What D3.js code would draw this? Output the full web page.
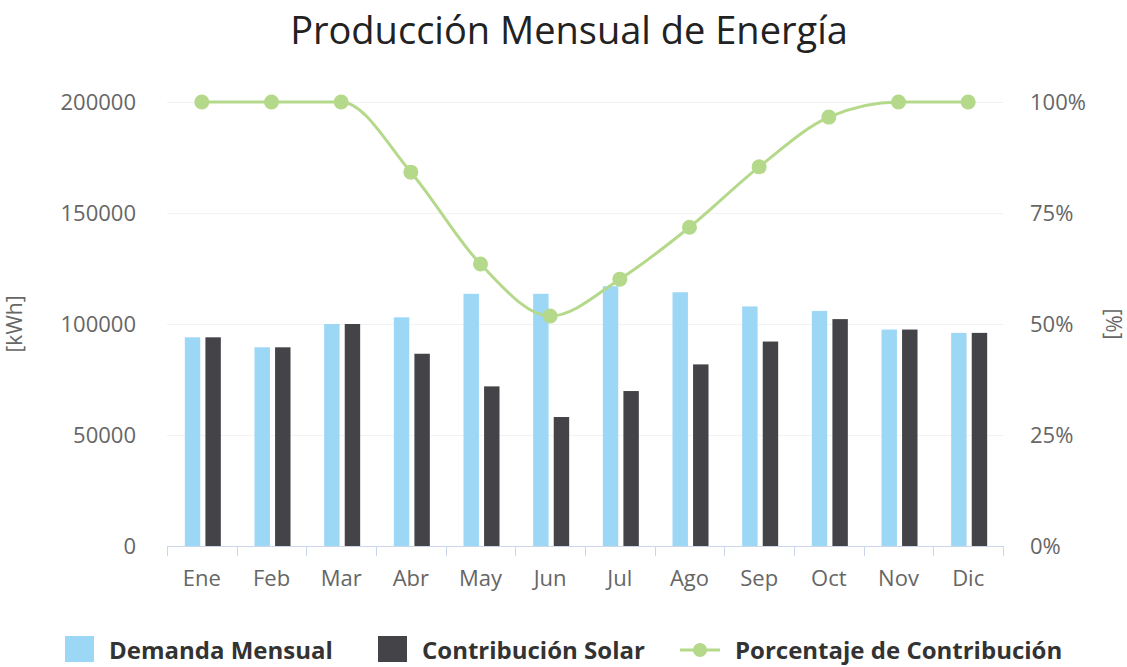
<!DOCTYPE html>
<html>
<head>
<meta charset="utf-8">
<script src="https://cdn.jsdelivr.net/npm/d3@7"></script>
<style>
  body { margin: 0; background: #fff; }
  text { font-family: 'Open Sans', 'DejaVu Sans', sans-serif; }
</style>
</head>
<body>
<div id="chart"></div>
<script>
const months = ['Ene', 'Feb', 'Mar', 'Abr', 'May', 'Jun', 'Jul', 'Ago', 'Sep', 'Oct', 'Nov', 'Dic']
const demanda = [94000, 89500, 100000, 103000, 113600, 113600, 117000, 114300, 107900, 105900, 97500, 96000]
const solar = [94000, 89500, 100000, 86600, 71900, 58100, 69800, 81800, 92100, 102200, 97500, 96000]
const porcentaje = [100, 100, 100, 84.2, 63.5, 51.8, 60.1, 71.8, 85.4, 96.6, 100, 100]
const leftTicks = [0, 50000, 100000, 150000, 200000]
const rightTicks = [0, 25, 50, 75, 100]
const seriesNames = ['Demanda Mensual', 'Contribución Solar', 'Porcentaje de Contribución']

const colors = { dem: '#9cd7f6', sol: '#434348', pct: '#b5d98b' }

const width = 1127
const height = 667
const margin = { top: 102, left: 167, right: 124, bottom: 121 }

const svg = d3
  .select('#chart')
  .append('svg')
  .attr('width', width)
  .attr('height', height)

const x = d3
  .scaleBand()
  .domain(months)
  .range([margin.left, width - margin.right])

const xInner = d3
  .scaleBand()
  .domain(['dem', 'sol'])
  .range([0, 36])
  .paddingInner(0.25)

const yLeft = d3
  .scaleLinear()
  .domain([0, 200000])
  .range([height - margin.bottom, margin.top])

const yRight = d3
  .scaleLinear()
  .domain([0, 100])
  .range([height - margin.bottom, margin.top])

// grid
svg
  .append('g')
  .selectAll('line')
  .data(leftTicks.filter(d => d > 0))
  .enter()
  .append('line')
  .attr('x1', margin.left)
  .attr('x2', width - margin.right)
  .attr('y1', d => Math.round(yLeft(d)) + 0.5)
  .attr('y2', d => Math.round(yLeft(d)) + 0.5)
  .attr('stroke', '#f2f2f2')

// bars
const groupOffset = (x.bandwidth() - 36) / 2 + 1
const bars = svg
  .append('g')
  .selectAll('g')
  .data(months)
  .enter()
  .append('g')
  .attr('transform', d => 'translate(' + (x(d) + groupOffset) + ',0)')

bars
  .append('rect')
  .attr('x', xInner('dem'))
  .attr('width', xInner.bandwidth())
  .attr('y', (d, i) => yLeft(demanda[i]))
  .attr('height', (d, i) => yLeft(0) - yLeft(demanda[i]))
  .attr('fill', colors.dem)

bars
  .append('rect')
  .attr('x', xInner('sol'))
  .attr('width', xInner.bandwidth())
  .attr('y', (d, i) => yLeft(solar[i]))
  .attr('height', (d, i) => yLeft(0) - yLeft(solar[i]))
  .attr('fill', colors.sol)

// x axis
const xAxis = d3.axisBottom(x).tickSize(0).tickPadding(24)
const xg = svg
  .append('g')
  .attr('transform', 'translate(0,' + (height - margin.bottom) + ')')
  .call(xAxis)
xg.select('.domain').remove()
xg.selectAll('text').attr('font-size', 22).attr('fill', '#666')

const boundaries = months.map(m => x(m)).concat([x.range()[1]])
svg
  .append('g')
  .selectAll('line')
  .data(boundaries)
  .enter()
  .append('line')
  .attr('x1', d => Math.round(d) + 0.5)
  .attr('x2', d => Math.round(d) + 0.5)
  .attr('y1', yLeft(0))
  .attr('y2', yLeft(0) + 10)
  .attr('stroke', '#ccd6eb')
svg
  .append('line')
  .attr('x1', margin.left)
  .attr('x2', width - margin.right)
  .attr('y1', yLeft(0) + 0.5)
  .attr('y2', yLeft(0) + 0.5)
  .attr('stroke', '#ccd6eb')

// left axis
const yAxisL = d3
  .axisLeft(yLeft)
  .tickValues(leftTicks)
  .tickFormat(d3.format('d'))
  .tickSize(0)
  .tickPadding(31)
const ylg = svg
  .append('g')
  .attr('transform', 'translate(' + margin.left + ',0)')
  .call(yAxisL)
ylg.select('.domain').remove()
ylg.selectAll('text').attr('font-size', 22).attr('fill', '#666')

// right axis
const yAxisR = d3
  .axisRight(yRight)
  .tickValues(rightTicks)
  .tickFormat(d => d + '%')
  .tickSize(0)
  .tickPadding(27)
const yrg = svg
  .append('g')
  .attr('transform', 'translate(' + (width - margin.right) + ',0)')
  .call(yAxisR)
yrg.select('.domain').remove()
yrg.selectAll('text').attr('font-size', 22).attr('fill', '#666')

// axis titles
svg
  .append('text')
  .attr('transform', 'translate(22,' + yLeft(100000) + ') rotate(-90)')
  .attr('text-anchor', 'middle')
  .attr('font-size', 21)
  .attr('fill', '#666')
  .text('[kWh]')

svg
  .append('text')
  .attr('transform', 'translate(1106,' + yLeft(100000) + ') rotate(90)')
  .attr('text-anchor', 'middle')
  .attr('font-size', 21)
  .attr('fill', '#666')
  .text('[%]')

// line
const line = d3
  .line()
  .x((d, i) => x(months[i]) + x.bandwidth() / 2)
  .y(d => yRight(d))
  .curve(d3.curveMonotoneX)

svg
  .append('path')
  .datum(porcentaje)
  .attr('d', line)
  .attr('fill', 'none')
  .attr('stroke', colors.pct)
  .attr('stroke-width', 3)

svg
  .append('g')
  .selectAll('circle')
  .data(porcentaje)
  .enter()
  .append('circle')
  .attr('cx', (d, i) => x(months[i]) + x.bandwidth() / 2)
  .attr('cy', d => yRight(d))
  .attr('r', 7.5)
  .attr('fill', colors.pct)

// title
svg
  .append('text')
  .attr('x', 569)
  .attr('y', 44)
  .attr('text-anchor', 'middle')
  .attr('font-size', 38)
  .attr('fill', '#222')
  .text('Producción Mensual de Energía')

// legend
const legendX = [65, 378, 680]
const legend = svg
  .append('g')
  .selectAll('g')
  .data(seriesNames)
  .enter()
  .append('g')
  .attr('transform', (d, i) => 'translate(' + legendX[i] + ',636)')

legend.each(function(d, i) {
  const g = d3.select(this)
  if (i < 2) {
    g.append('rect')
      .attr('width', 29)
      .attr('height', 26)
      .attr('fill', i === 0 ? colors.dem : colors.sol)
  } else {
    g.append('line')
      .attr('x1', 0)
      .attr('x2', 40)
      .attr('y1', 14)
      .attr('y2', 14)
      .attr('stroke', colors.pct)
      .attr('stroke-width', 3)
    g.append('circle')
      .attr('cx', 20)
      .attr('cy', 14)
      .attr('r', 7)
      .attr('fill', colors.pct)
  }
  g.append('text')
    .attr('x', i < 2 ? 44 : 55)
    .attr('y', 23)
    .attr('font-size', 24)
    .attr('font-weight', 'bold')
    .attr('fill', '#333')
    .text(d)
})
</script>
</body>
</html>
